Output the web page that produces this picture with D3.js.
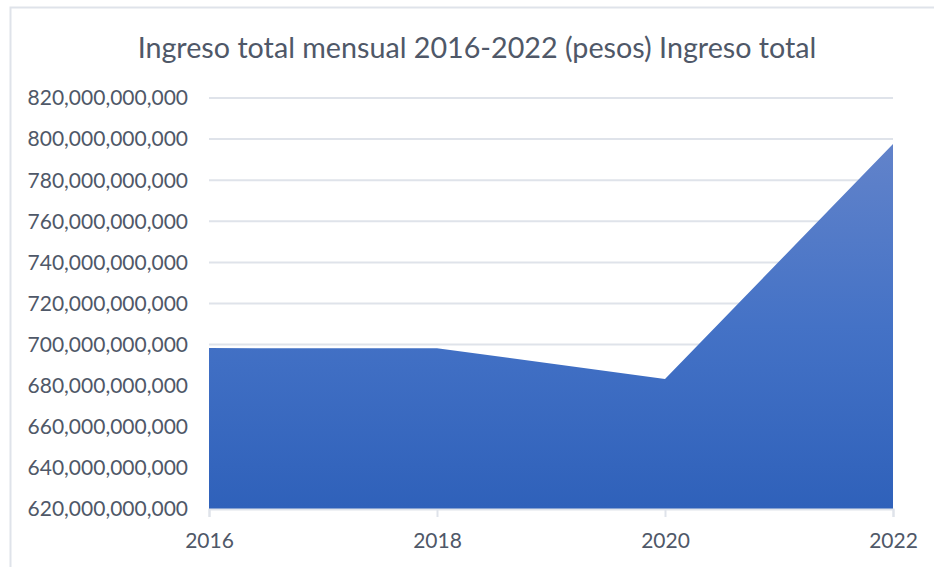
<!DOCTYPE html>
<html>
<head>
<meta charset="utf-8">
<script src="https://cdn.jsdelivr.net/npm/d3@7"></script>
<style>
  body { margin: 0; background: #fff; }
  text { font-family: Lato, "Open Sans", sans-serif; fill: #4f5868; }
</style>
</head>
<body>
<div id="chart"></div>
<script>
// Datos
const years = ["2016", "2018", "2020", "2022"];
const ingresoTotal = [698300000000, 698200000000, 683300000000, 797600000000];
const yTicks = [620e9, 640e9, 660e9, 680e9, 700e9, 720e9, 740e9, 760e9, 780e9, 800e9, 820e9];
const titulo = "Ingreso total mensual 2016-2022 (pesos) Ingreso total";

const W = 934, H = 567;
const margin = {top: 98, right: 41, bottom: 58, left: 209};
const width = W - margin.left - margin.right;
const height = H - margin.top - margin.bottom;

const svg = d3.select("#chart")
    .append("svg")
    .attr("width", W)
    .attr("height", H);

// Marco del gráfico
svg.append("path")
    .attr("d", `M10.5,${H} V7.5 H${W}`)
    .attr("fill", "none")
    .attr("stroke", "#dfe3ea")
    .attr("stroke-width", 2);

// Título
svg.append("text")
    .attr("x", 477)
    .attr("y", 58)
    .attr("text-anchor", "middle")
    .style("font-size", "28.7px")
    .text(titulo);

const g = svg.append("g")
    .attr("transform", `translate(${margin.left},${margin.top})`);

const x = d3.scalePoint()
    .domain(years)
    .range([0, width]);

const y = d3.scaleLinear()
    .domain([620e9, 820e9])
    .range([height, 0]);

// Líneas de cuadrícula
g.selectAll(".grid")
    .data(yTicks)
    .enter()
    .append("line")
    .attr("x1", 0)
    .attr("x2", width)
    .attr("y1", d => y(d))
    .attr("y2", d => y(d))
    .attr("stroke", "#dfe3ea")
    .attr("stroke-width", 2);

// Degradado
const grad = svg.append("defs").append("linearGradient")
    .attr("id", "fillGrad")
    .attr("gradientUnits", "userSpaceOnUse")
    .attr("x1", 0).attr("x2", 0)
    .attr("y1", y(d3.max(ingresoTotal))).attr("y2", height);
grad.append("stop").attr("offset", "0%").attr("stop-color", "#6283ca");
grad.append("stop").attr("offset", "50%").attr("stop-color", "#4472c6");
grad.append("stop").attr("offset", "100%").attr("stop-color", "#2f61ba");

const area = d3.area()
    .x((d, i) => x(years[i]))
    .y0(height)
    .y1(d => y(d));

g.append("path")
    .datum(ingresoTotal)
    .attr("d", area)
    .attr("fill", "url(#fillGrad)");

// Eje Y
g.selectAll(".ylabel")
    .data(yTicks)
    .enter()
    .append("text")
    .attr("x", -21)
    .attr("y", d => y(d))
    .attr("dy", "0.35em")
    .attr("text-anchor", "end")
    .style("font-size", "21px")
    .text(d => d3.format(",")(d));

// Eje X
const xAxis = g.append("g")
    .attr("transform", `translate(0,${height})`)
    .call(d3.axisBottom(x).tickSize(8).tickPadding(16));
xAxis.select(".domain").attr("stroke", "#dfe3ea").attr("stroke-width", 2);
xAxis.selectAll(".tick line").attr("stroke", "#dfe3ea").attr("stroke-width", 2);
xAxis.selectAll(".tick text")
    .style("font-size", "21px")
    .style("font-family", "Lato, sans-serif")
    .attr("fill", "#4f5868");
</script>
</body>
</html>
